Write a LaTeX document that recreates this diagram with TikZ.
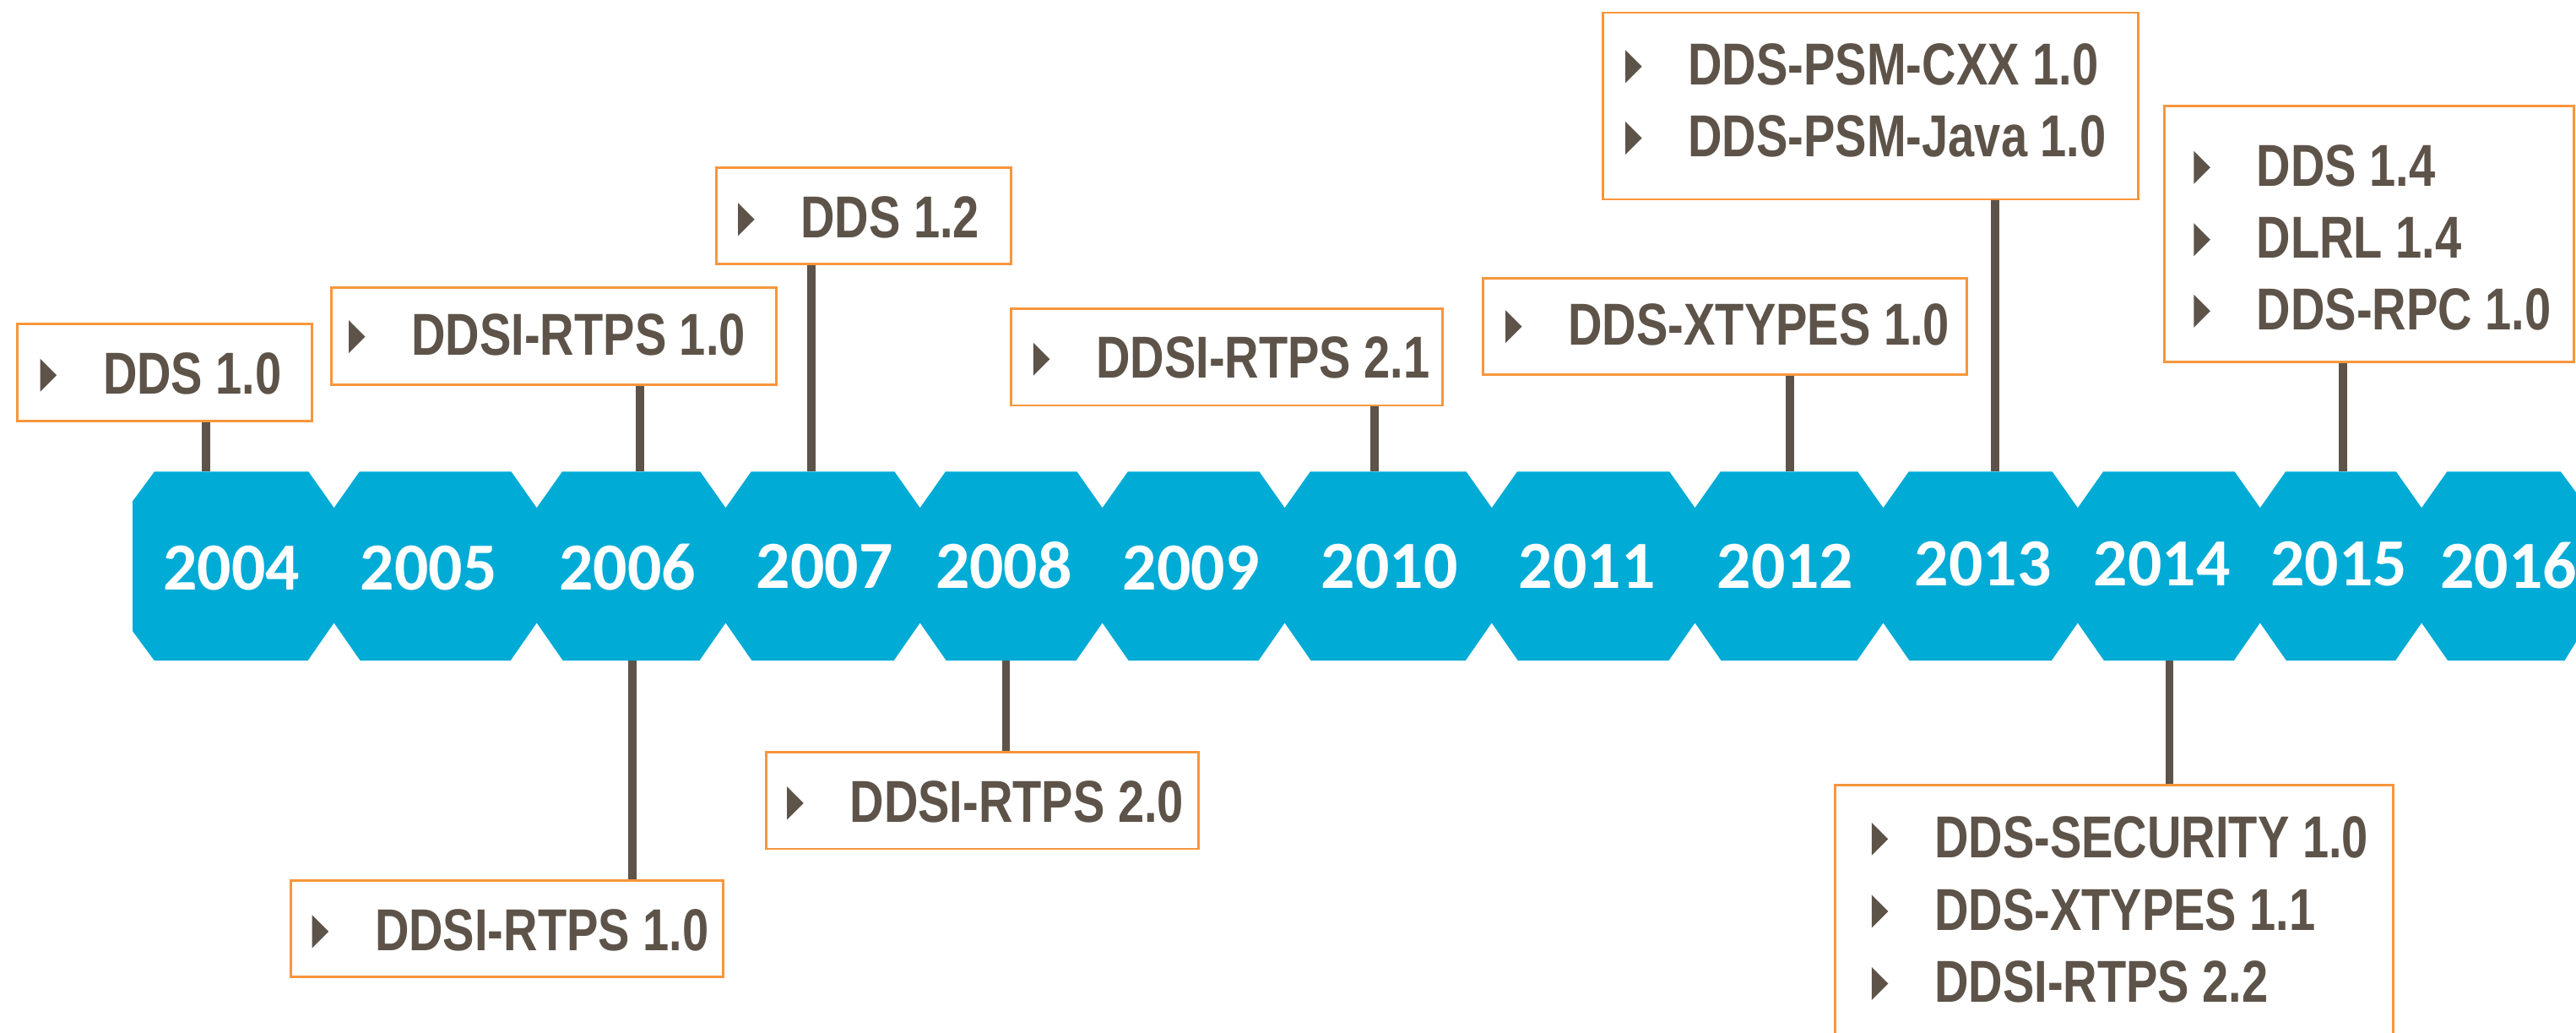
\documentclass[tikz,border=0pt]{standalone}
\usepackage{fontspec}
\usetikzlibrary{fit}
\newfontfamily\itemfont{Liberation Sans}[FakeStretch=0.8]
\newfontfamily\yearfont{Carlito}
\definecolor{bandblue}{RGB}{0,171,214}
\definecolor{stem}{RGB}{93,83,73}
\definecolor{frame}{RGB}{247,150,60}
\pgfdeclarelayer{stems}
\pgfsetlayers{stems,main}

\tikzset{
  specbox/.style={draw=frame, line width=1.5pt, fill=white, inner sep=0pt, rectangle},
  stemline/.style={draw=stem, line width=5pt},
  spec/.style={anchor=base west, inner sep=0pt, text=stem,
    font=\itemfont\bfseries\fontsize{36}{36}\selectfont},
  year/.style={anchor=base, inner sep=0pt, text=white,
    font=\yearfont\bfseries\fontsize{41}{41}\selectfont},
}

% one bulleted line: name, x of text, y of cap centre, text
\newcommand\specitem[4]{%
  \fill[stem] (#2-38,#3-8.5) -- (#2-28,#3+1.5) -- (#2-38,#3+11.5) -- cycle;
  \node[spec] (#1) at (#2,#3+12.9) {#4};
}

\begin{document}
\begin{tikzpicture}[x=1pt,y=-1pt]
\useasboundingbox (0,0) rectangle (1568,628.5);
\clip (0,0) rectangle (1568,628.5);

% ---- the year band ----
\fill[bandblue] (80.7,305) -- (94,287)
  \foreach \t in {203.3,326.7,441.7,560,671,782,908,1031.7,1146.3,1264.7,1375.7,1474}
    { -- (\t-15.5,287) -- (\t,309) -- (\t+15.5,287) }
  -- (1558.7,287) -- (1572,305) -- (1572,384) -- (1561,402)
  \foreach \t in {1474,1375.7,1264.7,1146.3,1031.7,908,782,671,560,441.7,326.7,203.3}
    { -- (\t+16,402) -- (\t,379) -- (\t-16,402) }
  -- (94,402) -- (80.7,384) -- cycle;

\node[year] (y2004) at (141,358.9)    {2004};
\node[year] (y2005) at (261,358.9)    {2005};
\node[year] (y2006) at (382,358.9)    {2006};
\node[year] (y2007) at (502,357.7)    {2007};
\node[year] (y2008) at (611,357.7)    {2008};
\node[year] (y2009) at (725,358.9)    {2009};
\node[year] (y2010) at (845.7,357.7)  {2010};
\node[year] (y2011) at (966,357.7)    {2011};
\node[year] (y2012) at (1086.7,357.7) {2012};
\node[year] (y2013) at (1207,356.3)   {2013};
\node[year] (y2014) at (1316,356.3)   {2014};
\node[year] (y2015) at (1423.7,356.3) {2015};
\node[year] (y2016) at (1527,357.7)   {2016};

% ---- specification boxes above the band ----
\node[specbox, fit={(10.3,197.3) (190,256)}] (b04) {};
\specitem{t04}{62.5}{226.8}{DDS 1.0}

\node[specbox, fit={(201.7,174.9) (472.5,234)}] (b06u) {};
\specitem{t06u}{250.3}{203.4}{DDSI-RTPS 1.0}

\node[specbox, fit={(436.2,101.9) (615.6,160.7)}] (b07) {};
\specitem{t07}{487.2}{132}{DDS 1.2}

\node[specbox, fit={(615.6,188) (878.1,246.7)}] (b10) {};
\specitem{t10}{667}{217}{DDSI-RTPS 2.1}

\node[specbox, fit={(902.8,169.5) (1197.2,228.1)}] (b12) {};
\specitem{t12}{954.4}{197.2}{DDS-XTYPES 1.0}

\node[specbox, fit={(975.9,7.7) (1301.6,121.3)}] (b13) {};
\specitem{t13a}{1027.4}{39}{DDS-PSM-CXX 1.0}
\specitem{t13b}{1027.4}{82.5}{DDS-PSM-Java 1.0}

\node[specbox, fit={(1317.5,64.5) (1566.7,220.4)}] (b15) {};
\specitem{t15a}{1373.4}{100.4}{DDS 1.4}
\specitem{t15b}{1373.4}{144.3}{DLRL 1.4}
\specitem{t15c}{1373.4}{187.8}{DDS-RPC 1.0}

% ---- specification boxes below the band ----
\node[specbox, fit={(466.6,457.7) (729.7,516.5)}] (b08) {};
\specitem{t08}{517.1}{487.2}{DDSI-RTPS 2.0}

\node[specbox, fit={(177.1,535.7) (440.2,594.5)}] (b06d) {};
\specitem{t06d}{228}{565.3}{DDSI-RTPS 1.0}

\node[specbox, fit={(1117,477.6) (1456.5,660)}] (b14) {};
\specitem{t14a}{1177.3}{509}{DDS-SECURITY 1.0}
\specitem{t14b}{1177.3}{553}{DDS-XTYPES 1.1}
\specitem{t14c}{1177.3}{597}{DDSI-RTPS 2.2}

% ---- stems joining boxes to the band ----
\coordinate (a04)  at (125.4,287);
\coordinate (a06u) at (389.4,287);
\coordinate (a07)  at (494,287);
\coordinate (a10)  at (836.8,287);
\coordinate (a12)  at (1089.7,287);
\coordinate (a13)  at (1214.4,287);
\coordinate (a15)  at (1426.2,287);
\coordinate (a06d) at (384.8,402);
\coordinate (a08)  at (612.4,402);
\coordinate (a14)  at (1320.5,402);

\begin{pgfonlayer}{stems}
  \foreach \n in {04,06u,07,10,12,13,15,06d,08,14}
    \draw[stemline] (b\n.south -| a\n) -- (a\n);
\end{pgfonlayer}
\end{tikzpicture}
\end{document}
